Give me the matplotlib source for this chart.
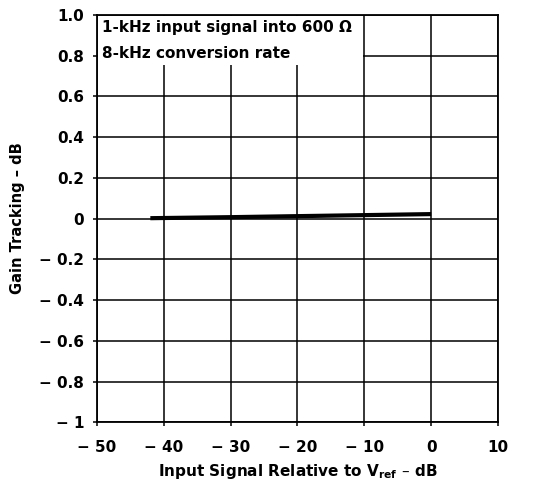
import matplotlib
matplotlib.use("Agg")
import matplotlib.pyplot as plt
from matplotlib.patches import Rectangle

plt.rcParams['font.family'] = ['DejaVu Sans']

# gain tracking curve
sig = [-42, -30, -20, -10, 0]
gain = [0.002, 0.007, 0.012, 0.017, 0.022]

xticks = [-50, -40, -30, -20, -10, 0, 10]
xlabels = ['\u2212 50', '\u2212 40', '\u2212 30', '\u2212 20', '\u2212 10', '0', '10']
yticks = [-1, -0.8, -0.6, -0.4, -0.2, 0, 0.2, 0.4, 0.6, 0.8, 1.0]
ylabels = ['\u2212 1', '\u2212 0.8', '\u2212 0.6', '\u2212 0.4', '\u2212 0.2', '0',
           '0.2', '0.4', '0.6', '0.8', '1.0']

fig = plt.figure(figsize=(5.35, 4.82), dpi=100)
ax = fig.add_axes([0.181, 0.124, 0.75, 0.845])

ax.set_xlim(-50, 10)
ax.set_ylim(-1, 1)
ax.set_xticks(xticks)
ax.set_xticklabels(xlabels, fontsize=11, fontweight='bold')
ax.set_yticks(yticks)
ax.set_yticklabels(ylabels, fontsize=11, fontweight='bold')
ax.grid(True, color='black', linewidth=1.1)
ax.tick_params(length=3, width=1.1, color='black')
ax.tick_params(axis='x', pad=10)
ax.tick_params(axis='y', pad=6)
for s in ax.spines.values():
    s.set_linewidth(1.3)

ax.plot(sig, gain, color='black', linewidth=3, solid_capstyle='butt', zorder=5)

# white area behind the note, hiding the grid
ax.add_patch(Rectangle((-49.8, 0.755), 39.6, 0.24, facecolor='white',
                       edgecolor='none', zorder=2.4))
ax.text(-49.3, 0.975, '1-kHz input signal into 600 \u03a9\n8-kHz conversion rate',
        fontsize=11, fontweight='bold', va='top', ha='left', linespacing=1.9,
        zorder=6)

ax.set_xlabel('Input Signal Relative to V$_{\\mathbf{ref}}$ \u2013 dB', fontsize=11,
              fontweight='bold', labelpad=5)
ax.set_ylabel('Gain Tracking \u2013 dB', fontsize=10.5, fontweight='bold', labelpad=10)

fig.savefig('out.png', dpi=100)
